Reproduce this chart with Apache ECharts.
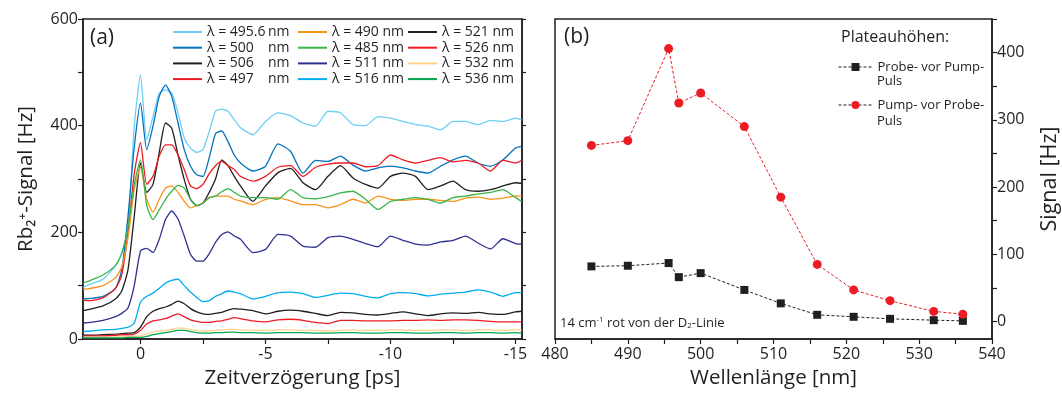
<!DOCTYPE html>
<html>
<head>
<meta charset="utf-8">
<script src="https://cdn.jsdelivr.net/npm/echarts@6/dist/echarts.min.js"></script>
<style>
html,body{margin:0;padding:0;background:#fff;}
#c{width:1062px;height:394px;}
</style>
</head>
<body>
<div id="c"></div>
<script>
// ---- Panel (a): time traces ----
var times = [2.3, 2, 1.5, 1, 0.75, 0.5, 0.25, 0, -0.25, -0.5, -0.75, -1, -1.25, -1.5, -1.75, -2, -2.25, -2.5, -2.75, -3, -3.25, -3.5, -3.75, -4, -4.5, -5, -5.5, -6, -6.5, -7, -7.5, -8, -8.5, -9, -9.5, -10, -10.5, -11, -11.5, -12, -12.5, -13, -13.5, -14, -14.5, -15, -15.25];

var s4956 = [97, 103, 112, 137, 162, 212, 399, 495, 374, 417, 461, 467, 461, 424, 377, 358, 350, 355, 389, 427, 431, 427, 411, 396, 383, 408, 424, 419, 405, 399, 427, 424, 402, 400, 417, 414, 408, 402, 399, 392, 408, 408, 402, 410, 408, 414, 411];
var s500  = [75, 76, 80, 95, 130, 230, 360, 442, 355, 399, 455, 476, 455, 405, 355, 324, 308, 305, 340, 385, 390, 370, 345, 330, 315, 324, 366, 352, 311, 335, 333, 343, 326, 315, 321, 324, 321, 315, 311, 324, 336, 343, 330, 324, 336, 358, 361];
var s506  = [53, 56, 62, 75, 90, 130, 230, 330, 275, 290, 350, 405, 395, 345, 299, 262, 250, 255, 275, 300, 336, 325, 305, 287, 258, 287, 312, 320, 293, 280, 305, 325, 302, 290, 283, 305, 311, 305, 280, 287, 296, 280, 277, 280, 287, 293, 292];
var s497  = [73, 72, 77, 95, 120, 200, 310, 368, 290, 305, 343, 364, 364, 345, 318, 287, 282, 290, 310, 325, 333, 325, 318, 305, 296, 305, 322, 325, 305, 322, 328, 330, 330, 323, 325, 345, 336, 330, 335, 340, 332, 335, 330, 315, 335, 330, 335];
var s490  = [93, 95, 100, 115, 135, 190, 280, 322, 262, 238, 262, 283, 287, 275, 258, 246, 250, 255, 265, 268, 268, 268, 262, 259, 252, 262, 265, 259, 252, 252, 246, 252, 262, 255, 268, 262, 260, 262, 262, 260, 258, 264, 266, 262, 264, 268, 268];
var s485  = [105, 110, 120, 138, 160, 210, 290, 336, 250, 224, 242, 262, 277, 288, 283, 262, 250, 255, 265, 268, 276, 282, 275, 268, 265, 265, 262, 280, 265, 263, 267, 274, 277, 262, 243, 258, 262, 265, 262, 255, 265, 268, 272, 275, 280, 265, 258];
var s511  = [30, 31, 35, 42, 48, 58, 100, 165, 170, 162, 187, 224, 240, 225, 193, 159, 146, 146, 160, 181, 196, 201, 193, 187, 162, 168, 196, 193, 174, 172, 190, 193, 187, 179, 173, 193, 185, 178, 176, 182, 185, 193, 180, 169, 188, 179, 178];
var s516  = [14, 15, 17, 18, 20, 22, 30, 69, 80, 86, 95, 105, 110, 112, 100, 88, 78, 70, 72, 80, 85, 90, 88, 85, 75, 80, 87, 88, 85, 78, 82, 86, 85, 80, 77, 85, 87, 85, 81, 84, 86, 88, 92, 88, 80, 87, 87];
var s521  = [7, 7, 8, 9, 10, 11, 12, 22, 42, 52, 57, 60, 65, 71, 66, 57, 51, 47, 46, 48, 50, 54, 57, 56, 53, 47, 52, 54, 52, 48, 44, 50, 49, 46, 45, 48, 51, 47, 44, 47, 49, 48, 50, 47, 46, 51, 52];
var s526  = [6, 6, 6, 7, 8, 8, 9, 16, 28, 34, 36, 38, 43, 47, 42, 36, 33, 31, 31, 33, 34, 37, 40, 38, 34, 32, 36, 37, 35, 31, 29, 35, 35, 34, 34, 34, 35, 35, 36, 35, 36, 36, 35, 33, 32, 32, 32];
var s532  = [3, 3, 3, 4, 4, 4, 5, 6, 9, 13, 15, 16, 18, 21, 20, 18, 16, 15, 15, 16, 17, 18, 18, 17, 16, 16, 17, 17, 16, 16, 15, 16, 17, 16, 16, 17, 17, 16, 16, 17, 17, 16, 17, 17, 16, 17, 17];
var s536  = [2, 2, 2, 2, 2, 3, 3, 3, 5, 8, 10, 12, 14, 16, 16, 14, 12, 11, 11, 12, 12, 13, 13, 12, 12, 11, 12, 12, 12, 11, 11, 12, 12, 11, 11, 12, 12, 11, 11, 12, 12, 11, 12, 12, 11, 12, 11];

var traceNames = ['495.6', '500', '506', '497', '490', '485', '511', '516', '521', '526', '532', '536'];
var traceValues = [s4956, s500, s506, s497, s490, s485, s511, s516, s521, s526, s532, s536];
var traceColors = ['#6dcff6', '#0072bc', '#231f20', '#ed1c24', '#f7941d', '#39b54a', '#2e3192', '#00aeef', '#231f20', '#ed1c24', '#fdd38a', '#00a651'];

var timeLabels = [0, -5, -10, -15];
var timeTicks = [0, -2.5, -5, -7.5, -10, -12.5, -15];
var sigLabels = [0, 200, 400, 600];
var sigTicks = [0, 100, 200, 300, 400, 500, 600];

// ---- Panel (b): plateau heights ----
var wavelengths = [485, 490, 495.6, 497, 500, 506, 511, 516, 521, 526, 532, 536];
var probeVorPump = [82, 83, 87, 66, 72, 47, 27, 10, 7, 4, 2, 1];
var pumpVorProbe = [262, 269, 406, 325, 340, 290, 185, 85, 47, 31, 15, 11];
var wlLabels = [480, 490, 500, 510, 520, 530, 540];
var wlTicks = [480, 485, 490, 495, 500, 505, 510, 515, 520, 525, 530, 535, 540];
var hzLabels = [0, 100, 200, 300, 400];
var hzTicks = [0, 50, 100, 150, 200, 250, 300, 350, 400, 450];

var FONT = '"Open Sans", "DejaVu Sans", sans-serif';
var INK = '#231f20';

function nm(n) { return '\u03bb = ' + n + ' nm'; }

var series = [];
traceNames.forEach(function (n, k) {
  series.push({
    name: nm(n), type: 'line', xAxisIndex: 0, yAxisIndex: 0,
    data: times.map(function (t, i) { return [t, traceValues[k][i]]; }),
    showSymbol: false, symbol: 'none', smooth: 0.2,
    lineStyle: { color: traceColors[k], width: 1.3 },
    itemStyle: { color: traceColors[k] },
    z: 2
  });
});
series.push({
  name: 'Probe- vor Pump-Puls', type: 'line', xAxisIndex: 1, yAxisIndex: 2,
  data: wavelengths.map(function (w, i) { return [w, probeVorPump[i]]; }),
  symbol: 'rect', symbolSize: 8,
  lineStyle: { color: INK, width: 1, type: [3, 2] },
  itemStyle: { color: INK }
});
series.push({
  name: 'Pump- vor Probe-Puls', type: 'line', xAxisIndex: 1, yAxisIndex: 2,
  data: wavelengths.map(function (w, i) { return [w, pumpVorProbe[i]]; }),
  symbol: 'circle', symbolSize: 9,
  lineStyle: { color: '#ed1c24', width: 1, type: [3, 2] },
  itemStyle: { color: '#ed1c24' }
});

function legendCol(left, names, col1) {
  var lg = {
    orient: 'vertical', left: left, top: 25, padding: 0,
    itemWidth: 29, itemHeight: 2, itemGap: 1.7,
    icon: 'rect',
    selectedMode: false,
    data: names.map(nm),
    textStyle: { fontFamily: FONT, fontSize: 14, color: INK, lineHeight: 14 }
  };
  if (col1) {
    lg.formatter = function (name) {
      var v = name.replace(' nm', '');
      return '{v|' + v + '}{n|nm}';
    };
    lg.textStyle.rich = {
      v: { width: 61, fontFamily: FONT, fontSize: 14, color: INK, lineHeight: 14 },
      n: { fontFamily: FONT, fontSize: 14, color: INK, lineHeight: 14 }
    };
  }
  return lg;
}

var axisLineStyle = { show: true, onZero: false, lineStyle: { color: INK, width: 1.5 } };
var labelStyle = { color: INK, fontFamily: FONT, fontSize: 16 };
var nameStyle = { color: INK, fontFamily: FONT, fontSize: 20.5 };

var option = {
  animation: false,
  backgroundColor: '#fff',
  grid: [
    { left: 83, top: 19, width: 439, height: 321, show: true, borderColor: INK, borderWidth: 1.5, backgroundColor: 'transparent' },
    { left: 555, top: 19, width: 437, height: 321, show: true, borderColor: INK, borderWidth: 1.5, backgroundColor: 'transparent' }
  ],
  xAxis: [
    {
      gridIndex: 0, type: 'value', inverse: true, min: -15.26, max: 2.3,
      axisLine: axisLineStyle,
      axisTick: { show: true, customValues: timeTicks, length: 5, lineStyle: { color: INK, width: 1.2 } },
      axisLabel: Object.assign({ customValues: timeLabels, margin: 7 }, labelStyle),
      splitLine: { show: false },
      name: 'Zeitverzögerung [ps]', nameLocation: 'middle', nameGap: 29, nameTextStyle: nameStyle
    },
    {
      gridIndex: 1, type: 'value', min: 480, max: 540,
      axisLine: axisLineStyle,
      axisTick: { show: true, customValues: wlTicks, length: 5, lineStyle: { color: INK, width: 1.2 } },
      axisLabel: Object.assign({ customValues: wlLabels, margin: 7 }, labelStyle),
      splitLine: { show: false },
      name: 'Wellenlänge [nm]', nameLocation: 'middle', nameGap: 29, nameTextStyle: nameStyle
    }
  ],
  yAxis: [
    {
      gridIndex: 0, type: 'value', min: 0, max: 600,
      axisLine: axisLineStyle,
      axisTick: { show: true, customValues: sigTicks, length: 5, lineStyle: { color: INK, width: 1.2 } },
      axisLabel: Object.assign({ customValues: sigLabels, margin: 5 }, labelStyle),
      splitLine: { show: false },
      name: 'Rb\u2082\u207a-Signal [Hz]', nameLocation: 'middle', nameGap: 46, nameRotate: 90, nameTextStyle: nameStyle
    },
    {
      gridIndex: 0, type: 'value', min: 0, max: 600, position: 'right',
      axisLine: axisLineStyle,
      axisTick: { show: true, customValues: sigTicks, length: 4, lineStyle: { color: INK, width: 1.2 } },
      axisLabel: { show: false },
      splitLine: { show: false }
    },
    {
      gridIndex: 1, type: 'value', min: -26, max: 450, position: 'right',
      axisLine: axisLineStyle,
      axisTick: { show: true, customValues: hzTicks, length: 5, lineStyle: { color: INK, width: 1.2 } },
      axisLabel: Object.assign({ customValues: hzLabels, margin: 5 }, labelStyle),
      splitLine: { show: false },
      name: 'Signal [Hz]', nameLocation: 'middle', nameGap: 47, nameRotate: 90, nameTextStyle: { color: INK, fontFamily: FONT, fontSize: 21.5 }
    }
  ],
  legend: [
    legendCol(173, ['495.6', '500', '506', '497'], true),
    legendCol(298, ['490', '485', '511', '516'], false),
    legendCol(408, ['521', '526', '532', '536'], false),
    {
      orient: 'vertical', left: 838, top: 60, padding: 0,
      itemWidth: 34, itemHeight: 10, itemGap: 24,
      selectedMode: false,
      data: ['Probe- vor Pump-Puls', 'Pump- vor Probe-Puls'],
      formatter: function (name) { return name.replace('Puls', ''); },
      lineStyle: { color: INK, type: [3, 2], width: 1 },
      textStyle: { fontFamily: FONT, fontSize: 13, color: INK, lineHeight: 14 }
    }
  ],
  graphic: [
    { type: 'text', left: 90, top: 28, style: { text: '(a)', fontFamily: FONT, fontSize: 21, fill: INK } },
    { type: 'text', left: 564, top: 27, style: { text: '(b)', fontFamily: FONT, fontSize: 21, fill: INK } },
    { type: 'text', left: 841, top: 29, style: { text: 'Plateauhöhen:', fontFamily: FONT, fontSize: 16, fill: INK } },
    { type: 'text', left: 877, top: 75, style: { text: 'Puls', fontFamily: FONT, fontSize: 13, fill: INK } },
    { type: 'text', left: 877, top: 115, style: { text: 'Puls', fontFamily: FONT, fontSize: 13, fill: INK } },
    {
      type: 'text', left: 560, top: 316,
      style: {
        text: '14 cm{sup|-1} rot von der D{sub|2}-Linie',
        fontFamily: FONT, fontSize: 13, fill: INK,
        rich: {
          sup: { fontFamily: FONT, fontSize: 8, fill: INK, verticalAlign: 'top', padding: [0, 0, 6, 0] },
          sub: { fontFamily: FONT, fontSize: 8, fill: INK, padding: [6, 0, 0, 0] }
        }
      }
    }
  ],
  series: series
};

var chart = echarts.init(document.getElementById('c'), null, { renderer: 'canvas' });
chart.setOption(option);
</script>
</body>
</html>
